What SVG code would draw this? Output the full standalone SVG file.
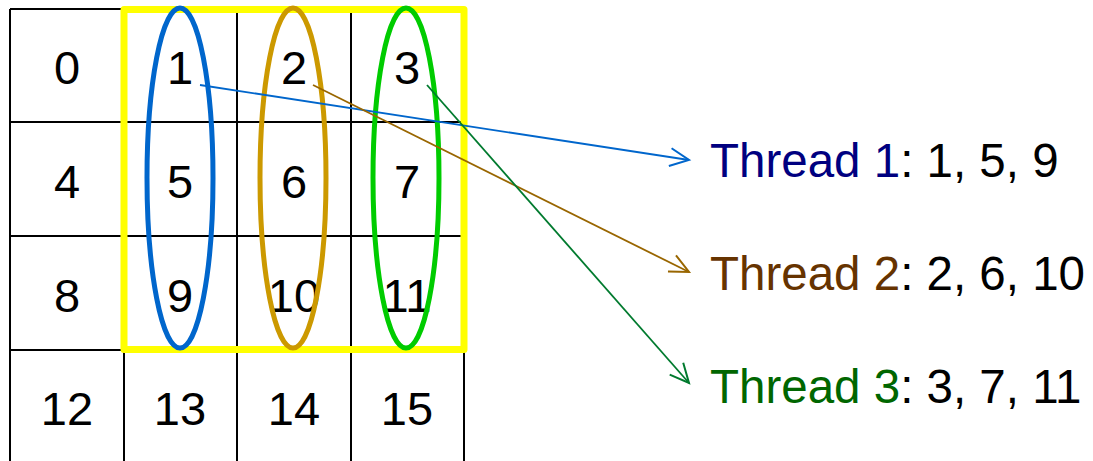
<svg xmlns="http://www.w3.org/2000/svg" width="1093" height="461" viewBox="0 0 1093 461">
<style>
.grid{fill:none;stroke:#000;stroke-width:2}
.num{font-family:"Liberation Sans",Arial,sans-serif;font-size:47px;fill:#000;text-anchor:middle}
.lbl{font-family:"Liberation Sans",Arial,sans-serif;font-size:47.5px;fill:#000}
.ell{fill:none;stroke-width:5}
.conn{fill:none;stroke-width:1.8}
</style>
<defs>
<marker id="ab" markerUnits="userSpaceOnUse" markerWidth="24" markerHeight="24" refX="20" refY="10" orient="auto" viewBox="0 0 24 20"><path d="M1,1 L20,10 L1,19" fill="none" stroke="#0066CC" stroke-width="2"/></marker>
<marker id="ao" markerUnits="userSpaceOnUse" markerWidth="24" markerHeight="24" refX="20" refY="10" orient="auto" viewBox="0 0 24 20"><path d="M1,1 L20,10 L1,19" fill="none" stroke="#996600" stroke-width="2"/></marker>
<marker id="ag" markerUnits="userSpaceOnUse" markerWidth="24" markerHeight="24" refX="20" refY="10" orient="auto" viewBox="0 0 24 20"><path d="M1,1 L20,10 L1,19" fill="none" stroke="#007A2E" stroke-width="2"/></marker>
</defs>
<rect width="1093" height="461" fill="#fff"/>
<g id="grid">
<path class="grid" d="M10,9 H464 M10,122 H464 M10,236 H464 M10,350 H464 M10,9 V470 M124,9 V470 M237,9 V470 M351,9 V470 M464,9 V470"/>
<text class="num" x="67" y="84">0</text>
<text class="num" x="180" y="84">1</text>
<text class="num" x="294" y="84">2</text>
<text class="num" x="407" y="84">3</text>
<text class="num" x="67" y="198">4</text>
<text class="num" x="180" y="198">5</text>
<text class="num" x="294" y="198">6</text>
<text class="num" x="407" y="198">7</text>
<text class="num" x="67" y="312">8</text>
<text class="num" x="180" y="312">9</text>
<text class="num" x="294" y="312">10</text>
<text class="num" x="407" y="312">11</text>
<text class="num" x="67" y="425">12</text>
<text class="num" x="180" y="425">13</text>
<text class="num" x="294" y="425">14</text>
<text class="num" x="407" y="425">15</text>
</g>
<g id="block">
<rect x="124" y="9.5" width="340" height="340" fill="none" stroke="#FFFF00" stroke-width="7" stroke-linejoin="round"/>
</g>
<g id="thread1-group"><ellipse class="ell" cx="180" cy="178" rx="33" ry="170" stroke="#0066CC"/></g>
<g id="thread2-group"><ellipse class="ell" cx="293" cy="178" rx="33" ry="170" stroke="#CC9900"/></g>
<g id="thread3-group"><ellipse class="ell" cx="406" cy="178" rx="33" ry="170" stroke="#00CC00"/></g>
<g id="connectors">
<line class="conn" x1="200" y1="85" x2="689" y2="160" stroke="#0066CC" marker-end="url(#ab)"/>
<line class="conn" x1="313" y1="85" x2="689" y2="272" stroke="#996600" marker-end="url(#ao)"/>
<line class="conn" x1="427" y1="85" x2="689" y2="383" stroke="#007A2E" marker-end="url(#ag)"/>
</g>
<g id="thread1"><text class="lbl" x="710" y="177"><tspan fill="#000080">Thread 1</tspan>: 1, 5, 9</text></g>
<g id="thread2"><text class="lbl" x="710" y="290"><tspan fill="#663300">Thread 2</tspan>: 2, 6, 10</text></g>
<g id="thread3"><text class="lbl" x="710" y="403"><tspan fill="#006600">Thread 3</tspan>: 3, 7, 11</text></g>
</svg>
